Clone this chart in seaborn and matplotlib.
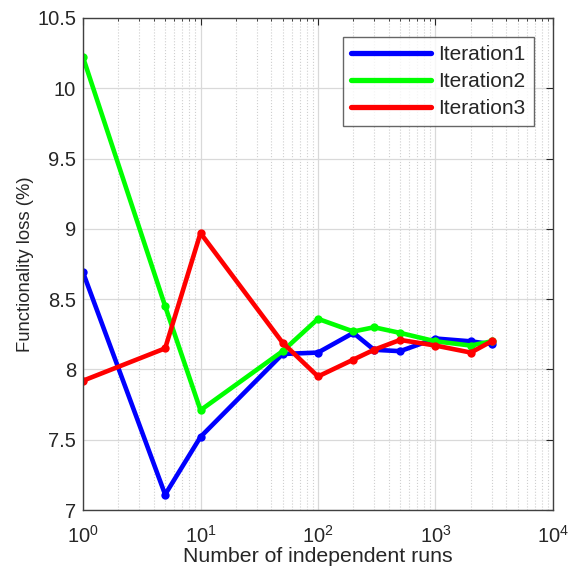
import numpy as np
import pandas as pd
import matplotlib
matplotlib.use("Agg")
import matplotlib.pyplot as plt
import seaborn as sns
from matplotlib.ticker import LogLocator, FixedLocator

runs = [1, 5, 10, 50, 100, 200, 300, 500, 1000, 2000, 3000]
iteration1 = [8.69, 7.11, 7.52, 8.11, 8.12, 8.26, 8.14, 8.13, 8.22, 8.20, 8.18]
iteration2 = [10.22, 8.45, 7.71, 8.13, 8.36, 8.27, 8.30, 8.26, 8.20, 8.17, 8.20]
iteration3 = [7.92, 8.15, 8.97, 8.19, 7.95, 8.07, 8.14, 8.21, 8.17, 8.12, 8.20]
series_names = ["Iteration1", "Iteration2", "Iteration3"]
colors = ["#0000ff", "#00ff00", "#ff0000"]

df = pd.DataFrame({
    "runs": runs * 3,
    "loss": iteration1 + iteration2 + iteration3,
    "series": [s for s in series_names for _ in runs],
})

sns.set_theme(style="white")
plt.rcParams["font.family"] = ["Liberation Sans", "DejaVu Sans"]
plt.rcParams["mathtext.fontset"] = "custom"
plt.rcParams["mathtext.rm"] = "Liberation Sans"
plt.rcParams["mathtext.it"] = "Liberation Sans"
plt.rcParams["mathtext.default"] = "regular"

fig = plt.figure(figsize=(5.73, 5.75), dpi=100)
ax = fig.add_axes([0.1449, 0.113, 0.8201, 0.8557])

sns.lineplot(data=df, x="runs", y="loss", hue="series", palette=colors,
             marker="o", markersize=6, markeredgewidth=0, linewidth=3.3,
             ax=ax, legend=True)

ax.set_xscale("log")
ax.set_xlim(1, 1e4)
ax.set_ylim(7, 10.5)
ax.set_yticks([7, 7.5, 8, 8.5, 9, 9.5, 10, 10.5])
ax.set_yticklabels(["7", "7.5", "8", "8.5", "9", "9.5", "10", "10.5"])
ax.xaxis.set_major_locator(FixedLocator([1, 10, 100, 1000, 10000]))
ax.set_xticklabels([r"$10^{0}$", r"$10^{1}$", r"$10^{2}$", r"$10^{3}$", r"$10^{4}$"])
ax.xaxis.set_minor_locator(LogLocator(base=10, subs=np.arange(2, 10), numticks=20))

ax.grid(True, which="major", axis="both", color="#d9d9d9", linewidth=0.9, linestyle="-")
ax.grid(True, which="minor", axis="x", color="#cfcfcf", linewidth=0.8, linestyle=":")
ax.set_axisbelow(True)

for sp in ax.spines.values():
    sp.set_color("#404040")
    sp.set_linewidth(1.0)
    sp.set_visible(True)

ax.tick_params(which="both", direction="in", top=True, right=True, colors="#262626",
               labelsize=14.5)
ax.tick_params(which="major", length=5, width=0.8)
ax.tick_params(which="minor", length=2.5, width=0.6)
ax.tick_params(axis="x", pad=11)
ax.tick_params(axis="y", pad=5)

ax.set_xlabel("Number of independent runs", fontsize=15.3, color="#262626", labelpad=0)
ax.set_ylabel("Functionality loss (%)", fontsize=13.3, color="#262626", labelpad=2)

leg = ax.legend(loc="upper right", fontsize=15, frameon=True, fancybox=False,
                edgecolor="#404040", handlelength=3.85, borderpad=0.4,
                labelspacing=0.38, handletextpad=0.35, borderaxespad=0.9)
leg.get_frame().set_linewidth(1.0)
for line in leg.get_lines():
    line.set_linewidth(3.8)
    line.set_marker("")

fig.savefig("out.png", dpi=100)
